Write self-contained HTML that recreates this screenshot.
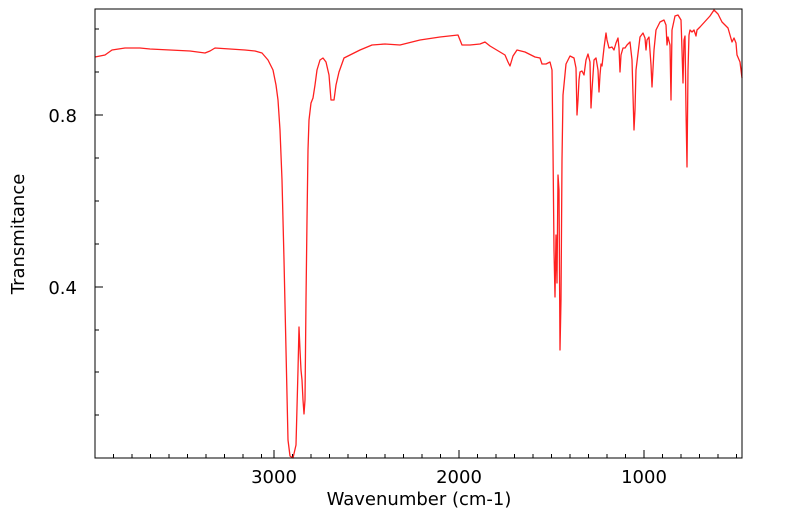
<!DOCTYPE html>
<html><head><style>
html,body{margin:0;padding:0;background:#fff;}
svg{display:block;font-family:"DejaVu Sans","Liberation Sans",sans-serif;}
</style></head><body>
<svg width="799" height="516" viewBox="0 0 799 516" xmlns="http://www.w3.org/2000/svg">
<rect x="0" y="0" width="799" height="516" fill="#fff"/>
<g stroke="#000" stroke-width="1">
<path d="M113.5 458v-4M132 458v-4M150.5 458v-4M169 458v-4M187.5 458v-4M206 458v-4M224.5 458v-4M243 458v-4M261.5 458v-4M292.5 458v-4M311 458v-4M329.5 458v-4M348 458v-4M366.5 458v-4M385 458v-4M403.5 458v-4M422 458v-4M440.5 458v-4M477.5 458v-4M496 458v-4M514.5 458v-4M533 458v-4M551.5 458v-4M570 458v-4M588.5 458v-4M607 458v-4M625.5 458v-4M662.5 458v-4M681 458v-4M699.5 458v-4M718 458v-4M736.5 458v-4"/>
<path d="M274 458v-8M459 458v-8M644 458v-8"/>
<path d="M95 415h4M95 372h4M95 330h4M95 244h4M95 201h4M95 158h4M95 72h4M95 29h4"/>
<path d="M95 287h8M95 115h8"/>
</g>
<polyline fill="none" stroke="#ff2020" stroke-width="1.3" stroke-linejoin="round" points="95,57 105,55 112,50 125,48 140,48 150,49 170,50 190,51 205,53 210,51 215,48 230,49 245,50 255,51 262,53 268,60 273,70 276,85 278,100 280,130 282,180 284,260 286,350 288,440 290,456 293,458 296,445 298,370 299,327 300,350 301,370 302,380 303,400 304,414 305,400 306,300 307,220 308,150 309,120 311,103 313,98 315,85 317,70 320,60 323,58 326,62 329,75 331,100 334,100 336,85 339,72 344,58 350,55 360,50 372,45 385,44 400,45 420,40 440,37 458,35 462,45 470,45 480,44 485,42 490,46 500,52 505,55 508,62 510,66 513,56 517,50 525,52 535,57 540,58 542,64 546,64 550,62 552,70 553,150 554,250 555,297 556,235 557,283 558,175 559,190 560,350 561,300 562,160 563,95 566,64 570,56 574,58 576,68 577,115 578,100 579,80 580,72 582,71 584,75 586,60 588,54 590,62 591,108 592,90 593,75 594,60 596,58 598,70 599,92 600,75 601,64 602,66 604,48 606,33 607,40 609,48 612,47 614,50 616,43 618,38 619,48 620,72 621,55 623,48 625,48 627,45 630,42 632,60 633,95 634,130 635,110 636,70 640,37 643,33 645,38 646,50 647,40 649,37 651,65 652,87 654,50 656,30 660,22 664,20 666,25 667,45 668,37 670,45 671,100 672,30 675,16 678,15 681,20 682,50 683,83 684,40 685,36 686,110 687,167 688,70 689,35 690,30 692,32 694,30 696,36 697,30 700,27 710,16 714,10 718,14 722,22 728,28 730,35 732,42 734,38 736,43 737,55 740,62 742,78"/>
<rect x="95" y="9" width="647" height="449" fill="none" stroke="#000" stroke-width="1"/>
<g font-size="18" fill="#000" text-anchor="middle">
<text x="274" y="483">3000</text>
<text x="459" y="483">2000</text>
<text x="644" y="483">1000</text>
<text x="419" y="505">Wavenumber (cm-1)</text>
<text x="77" y="122" text-anchor="end">0.8</text>
<text x="77" y="294" text-anchor="end">0.4</text>
<text transform="translate(24,234) rotate(-90)">Transmitance</text>
</g>
</svg>
</body></html>
